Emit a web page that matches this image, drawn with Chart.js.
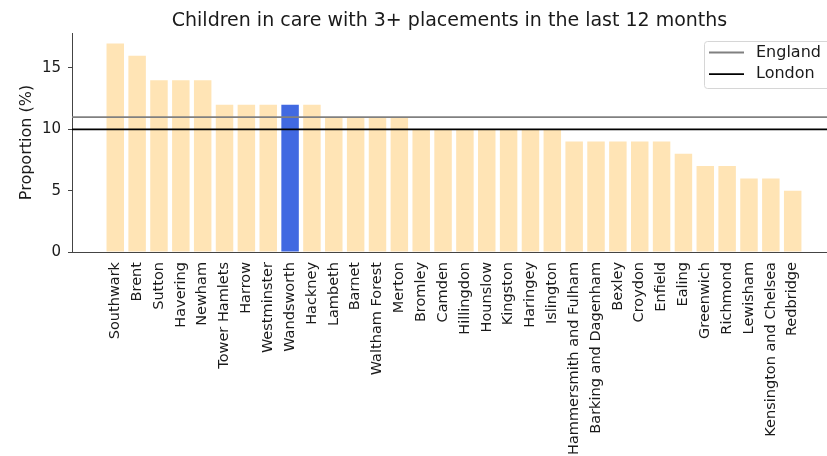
<!DOCTYPE html>
<html>
<head>
<meta charset="utf-8">
<script src="https://cdn.jsdelivr.net/npm/chart.js@4"></script>
<style>
  html, body { margin: 0; padding: 0; background: #fff; }
  canvas { display: block; }
</style>
</head>
<body>
<canvas id="chart" width="827" height="456"></canvas>
<script>
// Data
const boroughs = [
    'Southwark', 'Brent', 'Sutton', 'Havering', 'Newham', 'Tower Hamlets', 'Harrow',
    'Westminster', 'Wandsworth', 'Hackney', 'Lambeth', 'Barnet', 'Waltham Forest', 'Merton',
    'Bromley', 'Camden', 'Hillingdon', 'Hounslow', 'Kingston', 'Haringey', 'Islington',
    'Hammersmith and Fulham', 'Barking and Dagenham', 'Bexley', 'Croydon', 'Enfield', 'Ealing',
    'Greenwich', 'Richmond', 'Lewisham', 'Kensington and Chelsea', 'Redbridge'
];
const proportions = [
    17, 16, 14, 14, 14, 12, 12,
    12, 12, 12, 11, 11, 11, 11,
    10, 10, 10, 10, 10, 10, 10,
    9, 9, 9, 9, 9, 8,
    7, 7, 6, 6, 5
];
const highlight = 'Wandsworth';
const englandValue = 11;
const londonValue = 10;
const yTicks = [0, 5, 10, 15];

// axis limits
const xMin = -1.98;
const xMax = 32.57;
const yMax = 17.85;

const FONT = "'DejaVu Sans', sans-serif";
const TEXT = '#1a1a1a';

// title centred over the plot + boxed legend inside the plot (matplotlib style)
const decorations = {
    id: 'decorations',
    afterDraw(chart) {
        const ctx = chart.ctx;
        const area = chart.chartArea;
        ctx.save();
        ctx.fillStyle = TEXT;
        ctx.font = `19px ${FONT}`;
        ctx.textAlign = 'center';
        ctx.textBaseline = 'alphabetic';
        ctx.fillText('Children in care with 3+ placements in the last 12 months', (area.left + area.right) / 2, 26);

        // legend
        const bx = 704, by = 41, bw = 130, bh = 47;
        ctx.fillStyle = 'rgba(255,255,255,0.8)';
        ctx.strokeStyle = '#d6d6d6';
        ctx.lineWidth = 1;
        ctx.beginPath();
        ctx.roundRect(bx + 0.5, by + 0.5, bw, bh, 3);
        ctx.fill();
        ctx.stroke();

        const items = chart.data.datasets.filter(d => d.type === 'line');
        ctx.font = `16px ${FONT}`;
        ctx.textAlign = 'left';
        ctx.textBaseline = 'middle';
        items.forEach((d, i) => {
            const y = 52.5 + i * 21.7;
            ctx.strokeStyle = d.borderColor;
            ctx.lineWidth = d.borderWidth;
            ctx.beginPath();
            ctx.moveTo(709, y);
            ctx.lineTo(744, y);
            ctx.stroke();
            ctx.fillStyle = TEXT;
            ctx.fillText(d.label, 756, y);
        });
        ctx.restore();
    }
};

const ctx = document.getElementById('chart');
new Chart(ctx, {
    type: 'bar',
    data: {
        datasets: [
            {
                type: 'line',
                label: 'England',
                data: [{ x: xMin, y: englandValue }, { x: xMax, y: englandValue }],
                borderColor: '#808080',
                borderWidth: 1.8,
                pointRadius: 0,
                order: 0
            },
            {
                type: 'line',
                label: 'London',
                data: [{ x: xMin, y: londonValue }, { x: xMax, y: londonValue }],
                borderColor: '#000000',
                borderWidth: 1.8,
                pointRadius: 0,
                order: 0
            },
            {
                label: 'Proportion',
                data: boroughs.map((b, i) => ({ x: i, y: proportions[i] })),
                backgroundColor: boroughs.map(b => b === highlight ? '#4169E1' : '#FFE4B5'),
                barPercentage: 0.8,
                categoryPercentage: 1.0,
                order: 1
            }
        ]
    },
    options: {
        responsive: false,
        animation: false,
        layout: {
            padding: { top: 33, right: 0, bottom: 0, left: 0 }
        },
        plugins: {
            legend: { display: false },
            title: { display: false },
            tooltip: { enabled: false }
        },
        scales: {
            x: {
                type: 'linear',
                min: xMin,
                max: xMax,
                offset: false,
                afterFit(scale) { scale.height = 204; },
                afterBuildTicks(scale) {
                    scale.ticks = boroughs.map((b, i) => ({ value: i }));
                },
                ticks: {
                    autoSkip: false,
                    minRotation: 90,
                    maxRotation: 90,
                    padding: 10,
                    color: TEXT,
                    font: { family: FONT, size: 14.5 },
                    callback: (v) => boroughs[v] ?? ''
                },
                grid: { display: false, drawTicks: false },
                border: { color: '#444', width: 1 }
            },
            y: {
                min: 0,
                max: yMax,
                afterFit(scale) { scale.width = 72; },
                afterBuildTicks(scale) {
                    scale.ticks = yTicks.map(v => ({ value: v }));
                },
                ticks: {
                    padding: 7,
                    color: TEXT,
                    font: { family: FONT, size: 15 }
                },
                grid: { drawOnChartArea: false, drawTicks: true, tickLength: 4, color: '#444' },
                border: { color: '#444', width: 1 },
                title: {
                    display: true,
                    text: 'Proportion (%)',
                    color: TEXT,
                    font: { family: FONT, size: 16 },
                    padding: { top: 17, bottom: 0 }
                }
            }
        }
    },
    plugins: [decorations]
});
</script>
</body>
</html>
